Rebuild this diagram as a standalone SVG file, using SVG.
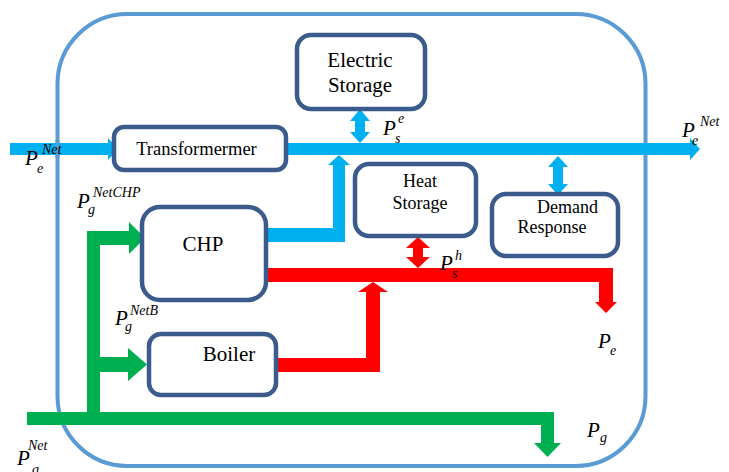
<svg xmlns="http://www.w3.org/2000/svg" width="729" height="472" viewBox="0 0 729 472">
  <style>
    .frame { fill: none; stroke: #5B9BD5; stroke-width: 4; }
    .box { fill: #FFFFFF; stroke: #3B5B8C; stroke-width: 4.5; }
    .elec { fill: #00B0F0; }
    .heat { fill: #FF0000; }
    .gas { fill: #00B050; }
    .name { text-anchor: middle; fill: #000000; }
    .sym { font-style: italic; fill: #000000; }
    .big { font-size: 21px; }
    .small { font-size: 14px; }
  </style>

  <!-- system boundary -->
  <rect id="boundary" class="frame" x="57.5" y="14" width="588" height="452" rx="70" ry="70"/>

  <g id="connectors">
    <!-- electricity (cyan) -->
    <polygon class="elec" points="10,143 108,143 108,138 118,149 108,160 108,155 10,155"/>
    <polygon class="elec" points="286,143 690,143 690,138 700,149 690,160 690,155 286,155"/>
    <polygon class="elec" points="360,109 370,121 365,121 365,132 370,132 360,143 350,132 355,132 355,121 350,121"/>
    <polygon class="elec" points="266,228 333,228 333,165 328,165 339,155 350,165 345,165 345,242 266,242"/>
    <polygon class="elec" points="558,156 568,167 563,167 563,184 568,184 558,195 548,184 553,184 553,167 548,167"/>
    <!-- heat (red) -->
    <polygon class="heat" points="266,268 613,268 613,302 617,302 606,313 595,302 599,302 599,282 266,282"/>
    <polygon class="heat" points="276,358 366,358 366,292 358,292 373,282 388,292 380,292 380,372 276,372"/>
    <polygon class="heat" points="418,237 430,248 423,248 423,257 430,257 418,268 406,257 413,257 413,248 406,248"/>
    <!-- gas (green) -->
    <polygon class="gas" points="27,412 554,412 554,443 561,443 547.5,457 534,443 541,443 541,425 27,425"/>
    <rect class="gas" x="87" y="231" width="13" height="181"/>
    <polygon class="gas" points="87,231 129,231 129,222 145,238 129,254 129,245 87,245"/>
    <polygon class="gas" points="87,357 128,357 128,348 147,364.5 128,381 128,372 87,372"/>
  </g>

  <!-- boundary line runs over the incoming grid feeder -->
  <line class="frame" x1="57.5" y1="140" x2="57.5" y2="158"/>

  <g font-family="Liberation Serif, Times New Roman, Times, Nimbus Roman, FreeSerif, Noto Serif, DejaVu Serif, serif">
    <g id="electric-storage">
      <rect class="box" x="297" y="35" width="128" height="74" rx="14"/>
      <text class="name" x="360" y="67" font-size="21">Electric</text>
      <text class="name" x="360" y="92" font-size="21">Storage</text>
    </g>

    <g id="transformer">
      <rect class="box" x="114" y="127" width="172" height="43" rx="10"/>
      <text class="name" x="196.5" y="155" font-size="18.5">Transformermer</text>
    </g>

    <g id="chp">
      <rect class="box" x="142" y="207" width="124" height="93" rx="18"/>
      <text class="name" x="203" y="251" font-size="21">CHP</text>
    </g>

    <g id="heat-storage">
      <rect class="box" x="355" y="164" width="121" height="72" rx="14"/>
      <text class="name" x="420" y="187" font-size="18">Heat</text>
      <text class="name" x="420" y="209" font-size="18">Storage</text>
    </g>

    <g id="demand-response">
      <rect class="box" x="492" y="194" width="126" height="62" rx="14"/>
      <text class="name" x="567.5" y="213" font-size="18">Demand</text>
      <text class="name" x="552" y="233" font-size="18">Response</text>
    </g>

    <g id="boiler">
      <rect class="box" x="149" y="334" width="127" height="61" rx="12"/>
      <text class="name" x="229" y="361" font-size="21">Boiler</text>
    </g>

    <!-- power symbols -->
    <g id="labels">
      <text class="sym big" x="25" y="165">P</text>
      <text class="sym small" x="42" y="154">Net</text>
      <text class="sym small" x="37" y="173">e</text>

      <text class="sym big" x="682" y="137">P</text>
      <text class="sym small" x="700" y="126">Net</text>
      <text class="sym small" x="692" y="145">e</text>

      <text class="sym big" x="383" y="135">P</text>
      <text class="sym small" x="398" y="123">e</text>
      <text class="sym small" x="395" y="143">s</text>

      <text class="sym big" x="77" y="208">P</text>
      <text class="sym small" x="93" y="197">NetCHP</text>
      <text class="sym small" x="88" y="214">g</text>

      <text class="sym big" x="115" y="325">P</text>
      <text class="sym small" x="130" y="315">NetB</text>
      <text class="sym small" x="125" y="331">g</text>

      <text class="sym big" x="440" y="270">P</text>
      <text class="sym small" x="455" y="260">h</text>
      <text class="sym small" x="452" y="278">s</text>

      <text class="sym big" x="598" y="348">P</text>
      <text class="sym small" x="610" y="355">e</text>

      <text class="sym big" x="587" y="437">P</text>
      <text class="sym small" x="600" y="442">g</text>

      <text class="sym big" x="17" y="465">P</text>
      <text class="sym small" x="28" y="450">Net</text>
      <text class="sym small" x="32" y="474">g</text>
    </g>
  </g>
</svg>
